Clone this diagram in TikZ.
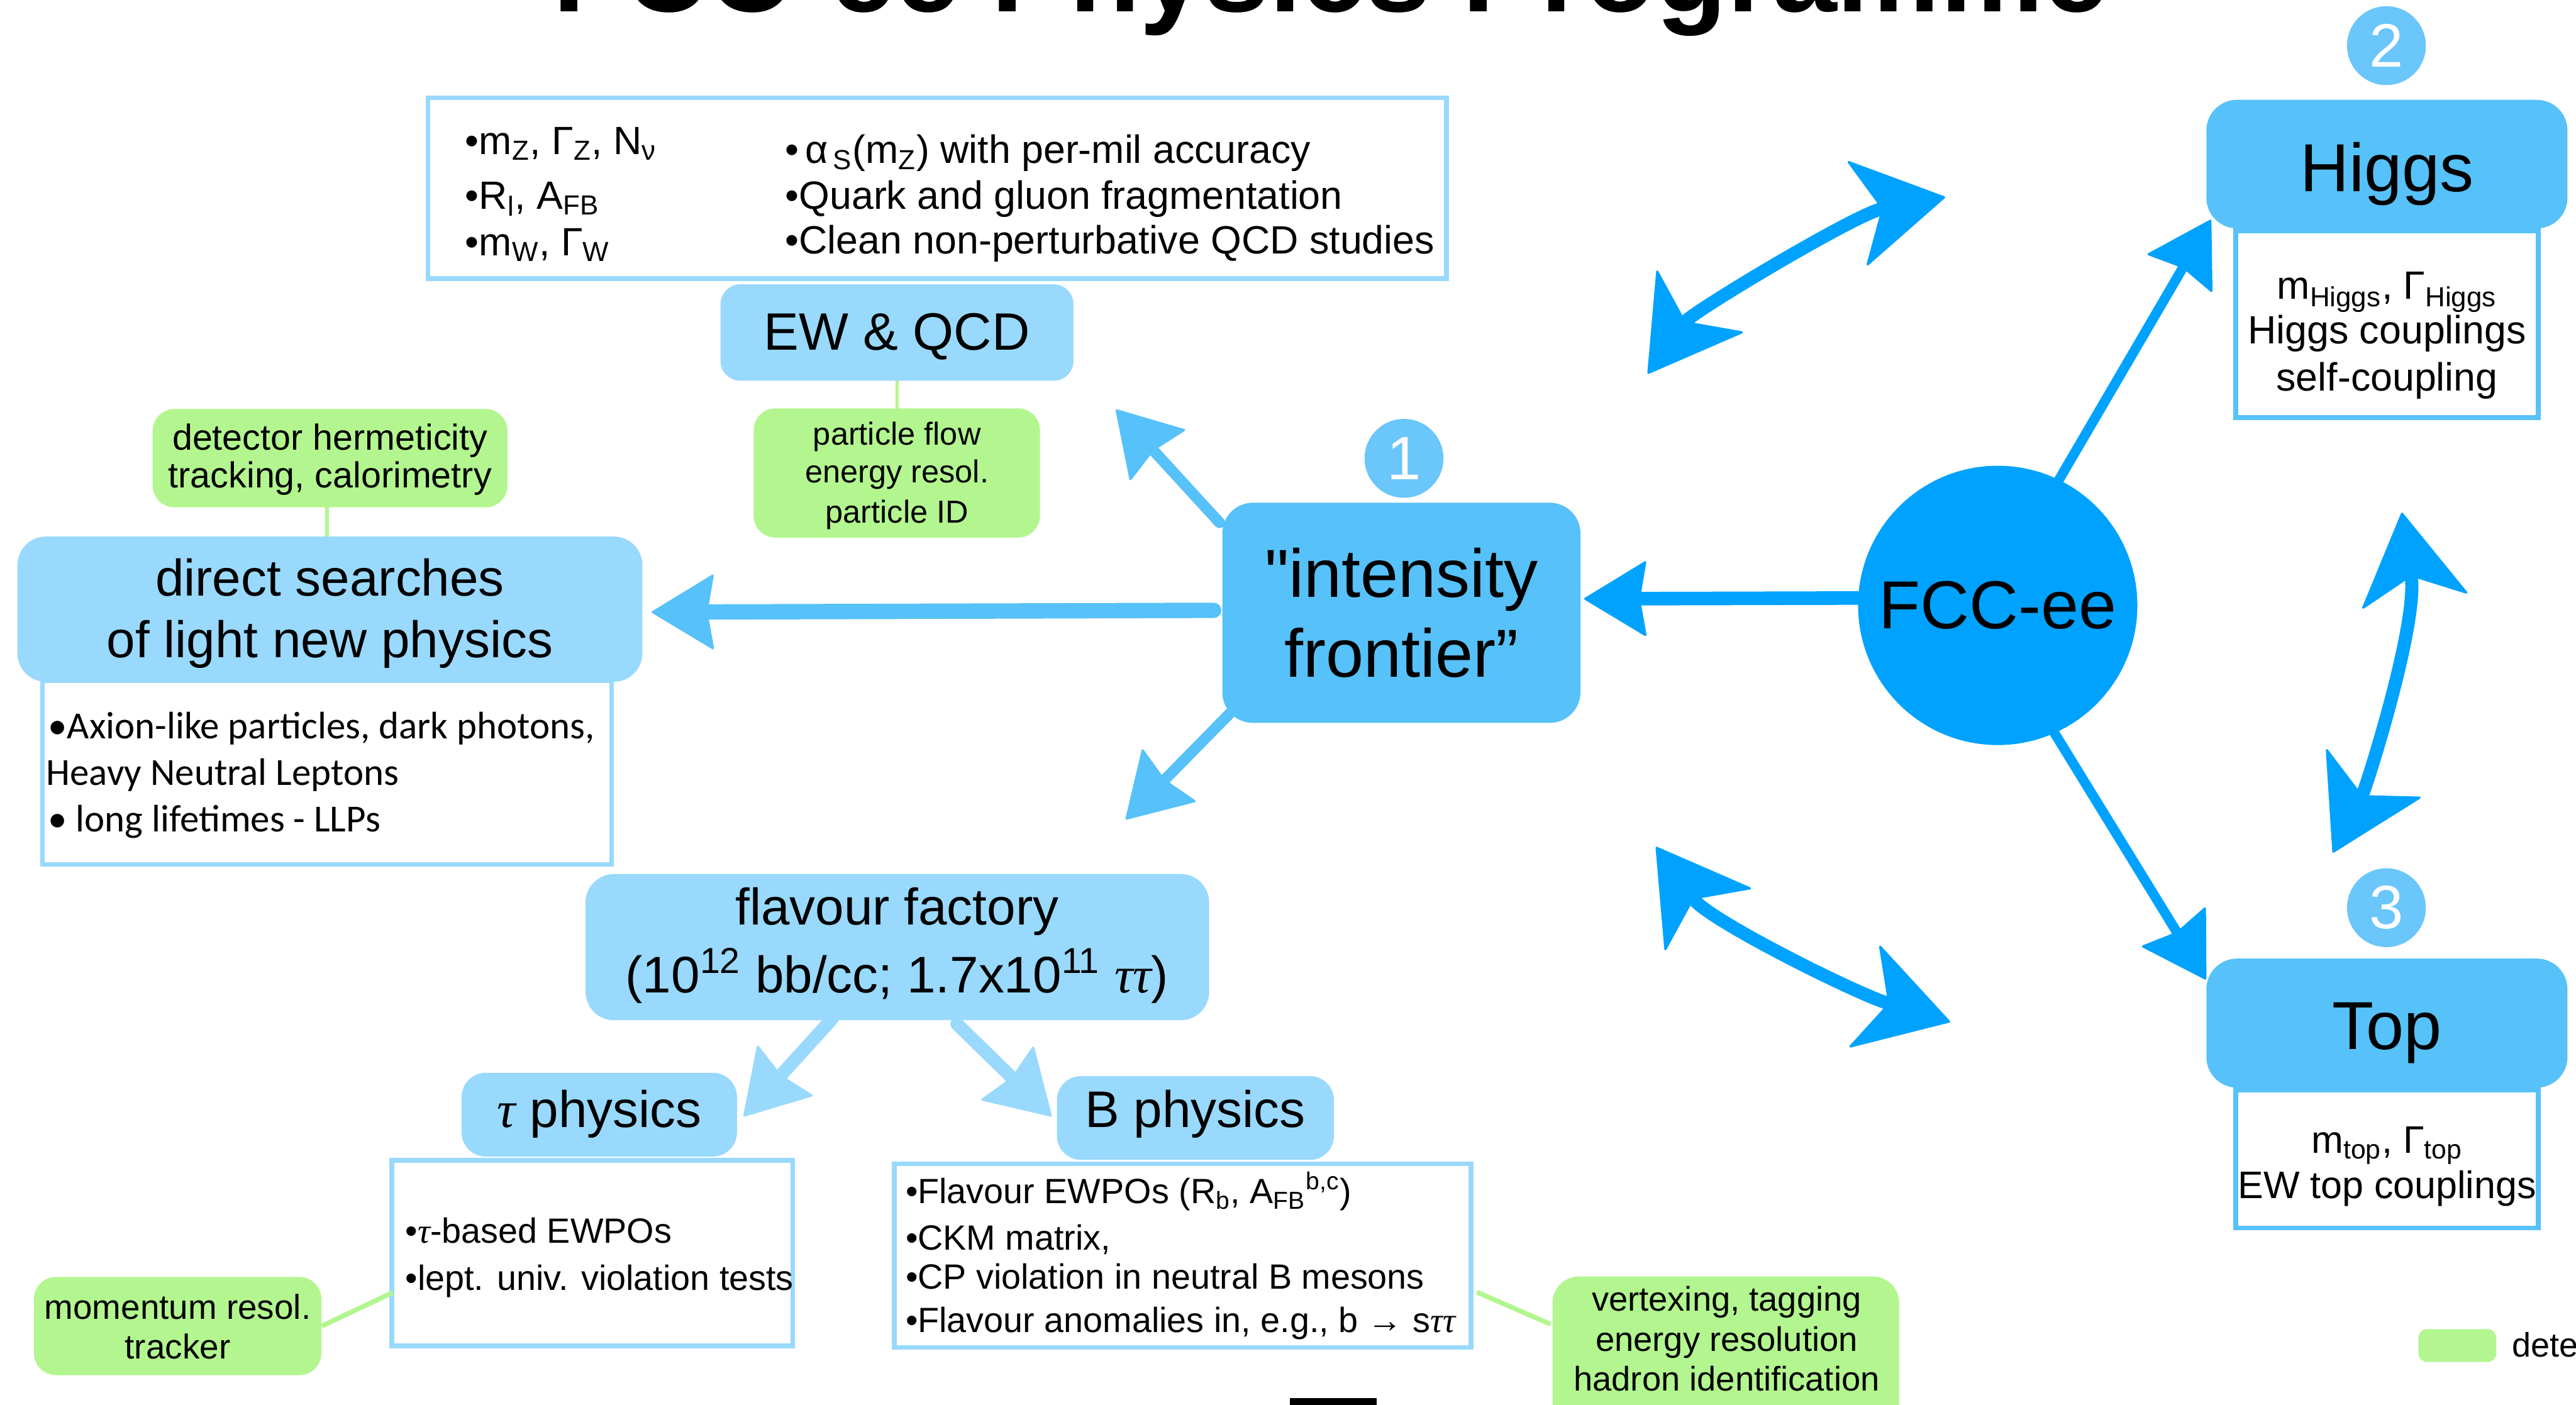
\documentclass[tikz,border=0pt]{standalone}
\usepackage{fontspec}
\setmainfont{Liberation Sans}
\newfontfamily\rawsans{Liberation Sans}[Ligatures=TeXOff]
\newfontfamily\calib{Carlito}
\newfontfamily\timesf{Liberation Serif}
\usetikzlibrary{arrows.meta,calc}

\definecolor{lblue}{HTML}{99D9FD}
\definecolor{mblue}{HTML}{57C1F9}
\definecolor{bblue}{HTML}{00A2FF}
\definecolor{cblue}{HTML}{6AC6FB}
\definecolor{lgreen}{HTML}{B3F68F}

\newcommand{\fs}[2]{\fontsize{#1}{#2}\selectfont}
\newcommand{\tauit}{{\timesf\itshape τ}}

\begin{document}
\begin{tikzpicture}[x=0.75pt,y=-0.75pt,
  lbox/.style={fill=lblue, inner sep=0pt},
  mbox/.style={fill=mblue, inner sep=0pt},
  gbox/.style={fill=lgreen, inner sep=0pt},
  lframe/.style={draw=lblue, line width=2.2pt, fill=white, inner sep=0pt},
  mframe/.style={draw=mblue, line width=2.2pt, fill=white, inner sep=0pt},
  numc/.style={circle, fill=cblue, inner sep=0pt, minimum size=36pt, text=white, font=\fs{28}{30}},
  tc/.style={inner sep=0pt, anchor=base},
  tl/.style={inner sep=0pt, anchor=base west},
  gline/.style={draw=lgreen, line width=1.6pt},
  arr/.style={line cap=round, -{Stealth[length=29pt,width=35pt,inset=3pt,line width=1pt,round]}},
  darr/.style={color=bblue, line width=6pt, line cap=round,
     {Stealth[length=42pt,width=50pt,inset=12pt,line width=1pt,round]}-{Stealth[length=42pt,width=50pt,inset=12pt,line width=1pt,round]}},
]
\useasboundingbox (0,0) rectangle (1568,855);
\clip (0,0) rectangle (1568,855);
\fill[white] (0,0) rectangle (1568,855);

% title (cut off at the top)
\node[tc, font=\fs{53}{60}\bfseries] (title) at (810,7) {FCC-ee Physics Programme};

% green connectors
\draw[gline] (546,231) -- (546,250);
\draw[gline] (199,307) -- (199,328);

% boxes
\node[lframe, minimum width=465pt, minimum height=82.5pt] (ewd) at (570.5,114.5) {};
\node[lbox, rounded corners=9pt, minimum width=161.1pt, minimum height=44pt] (ewq) at (546,202.4) {};
\node[gbox, rounded corners=10pt, minimum width=130.7pt, minimum height=59pt] (pf) at (545.9,287.9) {};
\node[gbox, rounded corners=10pt, minimum width=162pt, minimum height=44.9pt] (det) at (200.9,278.9) {};
\node[lframe, minimum width=259.8pt, minimum height=83.8pt] (dsd) at (199.1,470.3) {};
\node[lbox, rounded corners=13pt, minimum width=285.3pt, minimum height=66.3pt] (ds) at (200.8,370.8) {};
\node[mbox, rounded corners=14pt, minimum width=163.5pt, minimum height=100.5pt] (ifr) at (853,373) {};
\node[numc] (c1) at (854.6,279) {1};
\node[circle, fill=bblue, minimum size=127.5pt, inner sep=0pt, font=\fs{31}{36}] (fcc) at (1216,368.5) {FCC-ee};
\node[mframe, minimum width=138pt, minimum height=85.3pt] (higd) at (1453,197.3) {};
\node[mbox, rounded corners=14pt, minimum width=164.85pt, minimum height=58.7pt] (hig) at (1452.9,99.9) {};
\node[numc] (c2) at (1452.6,27.8) {2};
\node[mframe, minimum width=138pt, minimum height=63pt] (topd) at (1453,705.5) {};
\node[mbox, rounded corners=14pt, minimum width=164.85pt, minimum height=58.9pt] (top) at (1452.9,622.75) {};
\node[numc] (c3) at (1452.6,552.5) {3};
\node[lbox, rounded corners=13pt, minimum width=284.7pt, minimum height=66.75pt] (ff) at (546.2,576.5) {};
\node[lframe, minimum width=183pt, minimum height=84.7pt] (taud) at (360.5,762.75) {};
\node[lbox, rounded corners=11pt, minimum width=125.7pt, minimum height=38.25pt] (tau) at (364.8,678.5) {};
\node[lframe, minimum width=263.4pt, minimum height=83.8pt] (bd) at (719.9,764.3) {};
\node[lbox, rounded corners=11pt, minimum width=126.5pt, minimum height=38.25pt] (bph) at (727.65,680.5) {};
\node[gbox, rounded corners=10pt, minimum width=131.2pt, minimum height=44.8pt] (mom) at (108.15,807.15) {};
\node[gbox, rounded corners=12pt, minimum width=158.25pt, minimum height=77.25pt] (vtx) at (1050.5,828.5) {};
\node[gbox, rounded corners=4pt, minimum width=35.6pt, minimum height=15pt] (leg) at (1495.75,819) {};
\fill[black] (785,851) rectangle (838,860);

% green connectors to frames
\draw[gline, line width=2.2pt] (mom.east) -- ($(taud.west)+(2,24)$);
\draw[gline, line width=2.2pt] ($(bd.east)+(2,22.2)$) -- ($(vtx.west)+(-1,-22.5)$);

% arrows
\draw[arr, color=mblue, line width=7pt] ($(ifr.west)+(-5,-1.5)$) -- ($(ds.east)+(5.4,1.8)$);
\draw[arr, color=bblue, line width=6.2pt] ($(fcc.west)+(0,-4.5)$) -- ($(ifr.east)+(2,-8.5)$);
\draw[arr, color=mblue, line width=5pt] ($(ifr.north west)+(-1.4,12.4)$) -- ($(ewq.south east)+(25.6,17.3)$);
\draw[arr, color=mblue, line width=5pt] ($(ifr.south west)+(7,-8.2)$) -- ($(ff.north east)+(-51,-33)$);
\draw[arr, color=bblue, line width=4.5pt] (fcc.64) -- ($(hig.south west)+(3,-5.5)$);
\draw[arr, color=bblue, line width=4.5pt] (fcc.-66) -- ($(top.north west)+(0,13)$);
\draw[arr, color=lblue, line width=6pt] ($(ff.south)+(-39.8,-1)$) -- ($(tau.east)+(3.8,1)$);
\draw[arr, color=lblue, line width=6pt] ($(ff.south)+(36.3,2)$) -- ($(bph.west)+(-3,-1)$);

% double arrows
\coordinate (d1a) at (1003,227.5);
\coordinate (d1b) at (1184,120);
\coordinate (d2a) at (1420,519);
\coordinate (d2b) at (1462,312);
\coordinate (d3a) at (1008,515.5);
\coordinate (d3b) at (1187,622);
\draw[darr] (d1a) .. controls (1030,190) and (1130,130) .. (d1b);
\draw[darr] (d2a) .. controls (1440,480) and (1472,380) .. (d2b);
\draw[darr] (d3a) .. controls (1040,560) and (1130,605) .. (d3b);

% texts
\node[tl, font=\fs{18}{20}] (e1) at (283,93.8) {•m\textsubscript{Z}, Γ\textsubscript{Z}, N\textsubscript{ν}};
\node[tl, font=\fs{18}{20}] (e2) at (283,127.2) {•R\textsubscript{l}, A\textsubscript{FB}};
\node[tl, font=\fs{18}{20}] (e3) at (283,155.6) {•m\textsubscript{W}, Γ\textsubscript{W}};
\node[tl, font=\fs{18}{20}] (e4) at (477.7,99.4) {•\,α\textsubscript{\,S}(m\textsubscript{Z}) with per-mil accuracy};
\node[tl, font=\fs{18}{20}] (e5) at (477.7,127.2) {•Quark and gluon fragmentation};
\node[tl, font=\fs{18}{20}] (e6) at (477.7,154.3) {•Clean non-perturbative QCD studies};

\node[tc, font=\fs{24}{28}] (ewqt) at (546,213) {EW \& QCD};
\node[tc, font=\fs{14.5}{17}] (pf1) at (546,271) {particle flow};
\node[tc, font=\fs{14.5}{17}] (pf2) at (546,294) {energy resol.};
\node[tc, font=\fs{14.5}{17}] (pf3) at (546,318.4) {particle ID};
\node[tc, font=\fs{16.5}{18}] (det1) at (200.9,274) {detector hermeticity};
\node[tc, font=\fs{16.5}{18}] (det2) at (200.9,296.8) {tracking, calorimetry};
\node[tc, font=\fs{23.5}{28}] (ds1) at (200.8,362.8) {direct searches};
\node[tc, font=\fs{23.5}{28}] (ds2) at (200.8,400.3) {of light new physics};
\node[tl, font=\calib\fs{17.5}{21}] (dsd1) at (29,449.8) {•Axion-like particles, dark photons,};
\node[tl, font=\calib\fs{17.5}{21}] (dsd2) at (27.9,478) {Heavy Neutral Leptons};
\node[tl, font=\calib\fs{17.5}{21}] (dsd3) at (29,506.4) {• long lifetimes - LLPs};
\node[tc, font=\fs{31}{36}] (if1) at (853,363.6) {{\rawsans"}intensity};
\node[tc, font=\fs{31}{36}] (if2) at (853,412) {frontier”};
\node[tc, font=\fs{31}{36}] (higt) at (1452.9,116.4) {Higgs};
\node[tc, font=\fs{18}{20}] (hd1) at (1453,182.2) {m\textsubscript{Higgs}, Γ\textsubscript{Higgs}};
\node[tc, font=\fs{18}{20}] (hd2) at (1453,209.2) {Higgs couplings};
\node[tc, font=\fs{18}{20}] (hd3) at (1453,237.9) {self-coupling};
\node[tc, font=\fs{31}{36}] (topt) at (1452.9,638.7) {Top};
\node[tc, font=\fs{17.5}{20}] (td1) at (1453,702) {m\textsubscript{top}, Γ\textsubscript{top}};
\node[tc, font=\fs{17.5}{20}] (td2) at (1453,729.4) {EW top couplings};
\node[tc, font=\fs{23.5}{28}] (ff1) at (546,562.8) {flavour factory};
\node[tc, font=\fs{23.5}{28}] (ff2) at (546,604.4) {(10\textsuperscript{12} bb/cc; 1.7x10\textsuperscript{11} \tauit\tauit)};
\node[tc, font=\fs{23.5}{28}] (taut) at (364.8,686) {\tauit{} physics};
\node[tc, font=\fs{23.5}{28}] (bpht) at (727.65,686) {B physics};
\node[tl, font=\fs{16}{19}] (tdd1) at (246.5,756.5) {•\tauit-based EWPOs};
\node[tl, font=\fs{16}{19}] (tdd2) at (246.5,785.4) {•lept. univ. violation tests};
\node[tl, font=\fs{16}{19}] (bd1) at (551,732.4) {•Flavour EWPOs (R\textsubscript{b}, A\textsubscript{FB}\textsuperscript{b,c})};
\node[tl, font=\fs{16}{19}] (bd2) at (551,761) {•CKM matrix,};
\node[tl, font=\fs{16}{19}] (bd3) at (551,784.6) {•CP violation in neutral B mesons};
\node[tl, font=\fs{16}{19}] (bd4) at (551,811) {•Flavour anomalies in, e.g., b → s\tauit\tauit};
\node[tc, font=\fs{15.75}{18}] (mom1) at (108.15,803) {momentum resol.};
\node[tc, font=\fs{15.75}{18}] (mom2) at (108.15,827) {tracker};
\node[tc, font=\fs{15.6}{18}] (vt1) at (1051,798) {vertexing, tagging};
\node[tc, font=\fs{15.6}{18}] (vt2) at (1051,822.6) {energy resolution};
\node[tc, font=\fs{15.6}{18}] (vt3) at (1051,846.6) {hadron identification};
\node[tl, font=\fs{15.5}{18}] (legt) at (1528.7,825.8) {detector};
\end{tikzpicture}
\end{document}
